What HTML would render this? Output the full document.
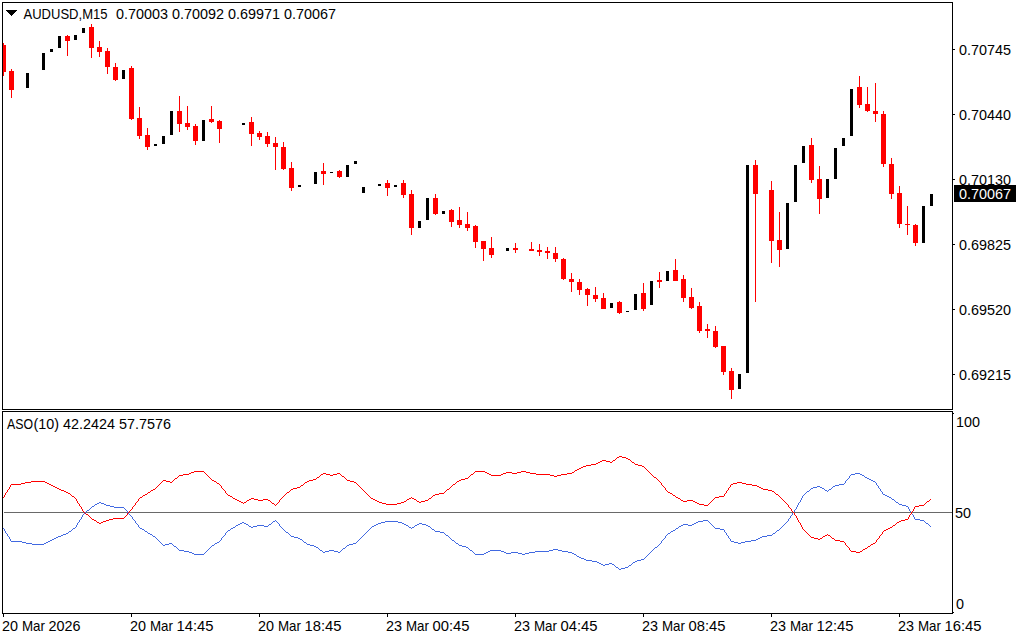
<!DOCTYPE html>
<html><head><meta charset="utf-8"><title>AUDUSD,M15</title>
<style>
html,body{margin:0;padding:0;background:#fff;}
body{width:1024px;height:640px;overflow:hidden;position:relative;font-family:"Liberation Sans",sans-serif;}
svg{position:absolute;left:0;top:0;display:block}
text{font-family:"Liberation Sans",sans-serif;font-size:14.4px;fill:#000}
</style></head><body>
<svg width="1024" height="640" viewBox="0 0 1024 640">
<rect x="0" y="0" width="1024" height="640" fill="#fff"/>
<g shape-rendering="crispEdges">
<g id="candles">
<rect x="3" y="43" width="1" height="33" fill="#f00"/>
<rect x="3" y="45" width="3" height="27" fill="#f00"/>
<rect x="11" y="69" width="1" height="29" fill="#f00"/>
<rect x="9" y="71" width="5" height="19" fill="#f00"/>
<rect x="26" y="73" width="3" height="15" fill="#000"/>
<rect x="42" y="53" width="3" height="17" fill="#000"/>
<rect x="50" y="49" width="3" height="3" fill="#000"/>
<rect x="58" y="36" width="3" height="12" fill="#000"/>
<rect x="67" y="35" width="1" height="21" fill="#f00"/>
<rect x="65" y="36" width="5" height="5" fill="#f00"/>
<rect x="74" y="35" width="3" height="5" fill="#000"/>
<rect x="82" y="28" width="3" height="5" fill="#000"/>
<rect x="91" y="24" width="1" height="34" fill="#f00"/>
<rect x="89" y="27" width="5" height="21" fill="#f00"/>
<rect x="99" y="41" width="1" height="16" fill="#f00"/>
<rect x="97" y="47" width="5" height="5" fill="#f00"/>
<rect x="107" y="48" width="1" height="26" fill="#f00"/>
<rect x="105" y="51" width="5" height="16" fill="#f00"/>
<rect x="115" y="63" width="1" height="18" fill="#f00"/>
<rect x="113" y="67" width="5" height="13" fill="#f00"/>
<rect x="122" y="70" width="3" height="9" fill="#000"/>
<rect x="131" y="66" width="1" height="54" fill="#f00"/>
<rect x="129" y="68" width="5" height="51" fill="#f00"/>
<rect x="139" y="107" width="1" height="32" fill="#f00"/>
<rect x="137" y="118" width="5" height="18" fill="#f00"/>
<rect x="147" y="128" width="1" height="22" fill="#f00"/>
<rect x="145" y="135" width="5" height="12" fill="#f00"/>
<rect x="154" y="144" width="3" height="2" fill="#000"/>
<rect x="162" y="136" width="3" height="8" fill="#000"/>
<rect x="170" y="111" width="3" height="24" fill="#000"/>
<rect x="179" y="96" width="1" height="36" fill="#f00"/>
<rect x="177" y="111" width="5" height="13" fill="#f00"/>
<rect x="187" y="106" width="1" height="24" fill="#f00"/>
<rect x="185" y="123" width="5" height="4" fill="#f00"/>
<rect x="195" y="124" width="1" height="21" fill="#f00"/>
<rect x="193" y="126" width="5" height="15" fill="#f00"/>
<rect x="202" y="120" width="3" height="21" fill="#000"/>
<rect x="211" y="106" width="1" height="17" fill="#f00"/>
<rect x="209" y="119" width="5" height="3" fill="#f00"/>
<rect x="219" y="120" width="1" height="23" fill="#f00"/>
<rect x="217" y="121" width="5" height="8" fill="#f00"/>
<rect x="242" y="123" width="3" height="2" fill="#000"/>
<rect x="251" y="117" width="1" height="29" fill="#f00"/>
<rect x="249" y="122" width="5" height="12" fill="#f00"/>
<rect x="259" y="131" width="1" height="9" fill="#f00"/>
<rect x="257" y="133" width="5" height="4" fill="#f00"/>
<rect x="267" y="132" width="1" height="15" fill="#f00"/>
<rect x="265" y="136" width="5" height="8" fill="#f00"/>
<rect x="275" y="137" width="1" height="33" fill="#f00"/>
<rect x="273" y="143" width="5" height="4" fill="#f00"/>
<rect x="283" y="142" width="1" height="28" fill="#f00"/>
<rect x="281" y="147" width="5" height="22" fill="#f00"/>
<rect x="291" y="162" width="1" height="29" fill="#f00"/>
<rect x="289" y="168" width="5" height="20" fill="#f00"/>
<rect x="298" y="185" width="3" height="2" fill="#000"/>
<rect x="314" y="172" width="3" height="12" fill="#000"/>
<rect x="323" y="163" width="1" height="22" fill="#f00"/>
<rect x="321" y="171" width="5" height="3" fill="#f00"/>
<rect x="330" y="172" width="3" height="1" fill="#000"/>
<rect x="339" y="170" width="1" height="8" fill="#f00"/>
<rect x="337" y="171" width="5" height="6" fill="#f00"/>
<rect x="346" y="165" width="3" height="12" fill="#000"/>
<rect x="354" y="161" width="3" height="3" fill="#000"/>
<rect x="362" y="187" width="3" height="6" fill="#000"/>
<rect x="378" y="184" width="3" height="2" fill="#000"/>
<rect x="387" y="180" width="1" height="16" fill="#f00"/>
<rect x="385" y="183" width="5" height="5" fill="#f00"/>
<rect x="394" y="185" width="3" height="2" fill="#000"/>
<rect x="403" y="180" width="1" height="18" fill="#f00"/>
<rect x="401" y="183" width="5" height="12" fill="#f00"/>
<rect x="411" y="190" width="1" height="45" fill="#f00"/>
<rect x="409" y="194" width="5" height="34" fill="#f00"/>
<rect x="418" y="221" width="3" height="7" fill="#000"/>
<rect x="426" y="198" width="3" height="22" fill="#000"/>
<rect x="435" y="194" width="1" height="21" fill="#f00"/>
<rect x="433" y="198" width="5" height="16" fill="#f00"/>
<rect x="442" y="211" width="3" height="3" fill="#000"/>
<rect x="451" y="209" width="1" height="18" fill="#f00"/>
<rect x="449" y="210" width="5" height="12" fill="#f00"/>
<rect x="459" y="207" width="1" height="21" fill="#f00"/>
<rect x="457" y="220" width="5" height="5" fill="#f00"/>
<rect x="467" y="212" width="1" height="19" fill="#f00"/>
<rect x="465" y="224" width="5" height="4" fill="#f00"/>
<rect x="475" y="225" width="1" height="23" fill="#f00"/>
<rect x="473" y="226" width="5" height="16" fill="#f00"/>
<rect x="483" y="241" width="1" height="20" fill="#f00"/>
<rect x="481" y="241" width="5" height="8" fill="#f00"/>
<rect x="491" y="237" width="1" height="21" fill="#f00"/>
<rect x="489" y="248" width="5" height="7" fill="#f00"/>
<rect x="506" y="248" width="3" height="3" fill="#000"/>
<rect x="515" y="243" width="1" height="10" fill="#f00"/>
<rect x="513" y="248" width="5" height="2" fill="#f00"/>
<rect x="531" y="242" width="1" height="9" fill="#f00"/>
<rect x="529" y="249" width="5" height="2" fill="#f00"/>
<rect x="539" y="244" width="1" height="12" fill="#f00"/>
<rect x="537" y="250" width="5" height="2" fill="#f00"/>
<rect x="547" y="247" width="1" height="12" fill="#f00"/>
<rect x="545" y="251" width="5" height="2" fill="#f00"/>
<rect x="555" y="247" width="1" height="15" fill="#f00"/>
<rect x="553" y="253" width="5" height="6" fill="#f00"/>
<rect x="563" y="258" width="1" height="22" fill="#f00"/>
<rect x="561" y="259" width="5" height="20" fill="#f00"/>
<rect x="571" y="273" width="1" height="19" fill="#f00"/>
<rect x="569" y="279" width="5" height="3" fill="#f00"/>
<rect x="579" y="279" width="1" height="16" fill="#f00"/>
<rect x="577" y="282" width="5" height="8" fill="#f00"/>
<rect x="587" y="288" width="1" height="18" fill="#f00"/>
<rect x="585" y="289" width="5" height="6" fill="#f00"/>
<rect x="595" y="287" width="1" height="15" fill="#f00"/>
<rect x="593" y="295" width="5" height="4" fill="#f00"/>
<rect x="603" y="293" width="1" height="16" fill="#f00"/>
<rect x="601" y="298" width="5" height="11" fill="#f00"/>
<rect x="610" y="303" width="3" height="5" fill="#000"/>
<rect x="619" y="301" width="1" height="13" fill="#f00"/>
<rect x="617" y="302" width="5" height="11" fill="#f00"/>
<rect x="626" y="311" width="3" height="1" fill="#000"/>
<rect x="634" y="294" width="3" height="16" fill="#000"/>
<rect x="643" y="283" width="1" height="28" fill="#f00"/>
<rect x="641" y="293" width="5" height="16" fill="#f00"/>
<rect x="650" y="281" width="3" height="24" fill="#000"/>
<rect x="659" y="272" width="1" height="16" fill="#f00"/>
<rect x="657" y="280" width="5" height="2" fill="#f00"/>
<rect x="666" y="271" width="3" height="10" fill="#000"/>
<rect x="675" y="259" width="1" height="22" fill="#f00"/>
<rect x="673" y="270" width="5" height="11" fill="#f00"/>
<rect x="683" y="275" width="1" height="27" fill="#f00"/>
<rect x="681" y="279" width="5" height="19" fill="#f00"/>
<rect x="691" y="288" width="1" height="21" fill="#f00"/>
<rect x="689" y="297" width="5" height="11" fill="#f00"/>
<rect x="699" y="302" width="1" height="31" fill="#f00"/>
<rect x="697" y="306" width="5" height="25" fill="#f00"/>
<rect x="707" y="324" width="1" height="14" fill="#f00"/>
<rect x="705" y="329" width="5" height="2" fill="#f00"/>
<rect x="715" y="326" width="1" height="22" fill="#f00"/>
<rect x="713" y="331" width="5" height="16" fill="#f00"/>
<rect x="723" y="346" width="1" height="29" fill="#f00"/>
<rect x="721" y="346" width="5" height="26" fill="#f00"/>
<rect x="731" y="368" width="1" height="31" fill="#f00"/>
<rect x="729" y="371" width="5" height="19" fill="#f00"/>
<rect x="738" y="374" width="3" height="15" fill="#000"/>
<rect x="746" y="165" width="3" height="208" fill="#000"/>
<rect x="755" y="160" width="1" height="142" fill="#f00"/>
<rect x="753" y="165" width="5" height="29" fill="#f00"/>
<rect x="771" y="181" width="1" height="82" fill="#f00"/>
<rect x="769" y="190" width="5" height="51" fill="#f00"/>
<rect x="779" y="212" width="1" height="55" fill="#f00"/>
<rect x="777" y="240" width="5" height="10" fill="#f00"/>
<rect x="786" y="203" width="3" height="46" fill="#000"/>
<rect x="794" y="165" width="3" height="37" fill="#000"/>
<rect x="802" y="146" width="3" height="17" fill="#000"/>
<rect x="811" y="138" width="1" height="45" fill="#f00"/>
<rect x="809" y="145" width="5" height="35" fill="#f00"/>
<rect x="819" y="166" width="1" height="48" fill="#f00"/>
<rect x="817" y="179" width="5" height="20" fill="#f00"/>
<rect x="826" y="179" width="3" height="19" fill="#000"/>
<rect x="834" y="148" width="3" height="31" fill="#000"/>
<rect x="842" y="138" width="3" height="8" fill="#000"/>
<rect x="850" y="89" width="3" height="47" fill="#000"/>
<rect x="859" y="76" width="1" height="32" fill="#f00"/>
<rect x="857" y="87" width="5" height="18" fill="#f00"/>
<rect x="867" y="87" width="1" height="25" fill="#f00"/>
<rect x="865" y="104" width="5" height="7" fill="#f00"/>
<rect x="875" y="83" width="1" height="39" fill="#f00"/>
<rect x="873" y="111" width="5" height="3" fill="#f00"/>
<rect x="883" y="111" width="1" height="56" fill="#f00"/>
<rect x="881" y="114" width="5" height="50" fill="#f00"/>
<rect x="891" y="158" width="1" height="41" fill="#f00"/>
<rect x="889" y="164" width="5" height="30" fill="#f00"/>
<rect x="899" y="186" width="1" height="42" fill="#f00"/>
<rect x="897" y="193" width="5" height="31" fill="#f00"/>
<rect x="907" y="206" width="1" height="29" fill="#f00"/>
<rect x="905" y="224" width="5" height="1" fill="#f00"/>
<rect x="915" y="224" width="1" height="22" fill="#f00"/>
<rect x="913" y="225" width="5" height="18" fill="#f00"/>
<rect x="922" y="206" width="3" height="37" fill="#000"/>
<rect x="930" y="194" width="3" height="12" fill="#000"/>
</g>
<rect x="4" y="512" width="948" height="1" fill="#696969"/>
<rect x="855" y="473" width="5" height="1" fill="#4169e1"/>
<rect x="851" y="474" width="4" height="1" fill="#4169e1"/>
<rect x="860" y="474" width="2" height="1" fill="#4169e1"/>
<rect x="850" y="475" width="1" height="1" fill="#4169e1"/>
<rect x="862" y="475" width="2" height="1" fill="#4169e1"/>
<rect x="849" y="476" width="1" height="1" fill="#4169e1"/>
<rect x="864" y="476" width="1" height="1" fill="#4169e1"/>
<rect x="849" y="477" width="1" height="1" fill="#4169e1"/>
<rect x="865" y="477" width="2" height="1" fill="#4169e1"/>
<rect x="848" y="478" width="1" height="1" fill="#4169e1"/>
<rect x="867" y="478" width="2" height="1" fill="#4169e1"/>
<rect x="847" y="479" width="1" height="1" fill="#4169e1"/>
<rect x="869" y="479" width="2" height="1" fill="#4169e1"/>
<rect x="846" y="480" width="1" height="1" fill="#4169e1"/>
<rect x="871" y="480" width="2" height="1" fill="#4169e1"/>
<rect x="845" y="481" width="1" height="1" fill="#4169e1"/>
<rect x="873" y="481" width="2" height="1" fill="#4169e1"/>
<rect x="845" y="482" width="1" height="1" fill="#4169e1"/>
<rect x="875" y="482" width="1" height="1" fill="#4169e1"/>
<rect x="844" y="483" width="1" height="1" fill="#4169e1"/>
<rect x="876" y="483" width="1" height="1" fill="#4169e1"/>
<rect x="839" y="484" width="5" height="1" fill="#4169e1"/>
<rect x="876" y="484" width="1" height="1" fill="#4169e1"/>
<rect x="835" y="485" width="4" height="1" fill="#4169e1"/>
<rect x="877" y="485" width="1" height="1" fill="#4169e1"/>
<rect x="817" y="486" width="3" height="1" fill="#4169e1"/>
<rect x="833" y="486" width="2" height="1" fill="#4169e1"/>
<rect x="878" y="486" width="1" height="1" fill="#4169e1"/>
<rect x="813" y="487" width="4" height="1" fill="#4169e1"/>
<rect x="820" y="487" width="2" height="1" fill="#4169e1"/>
<rect x="832" y="487" width="1" height="1" fill="#4169e1"/>
<rect x="878" y="487" width="1" height="1" fill="#4169e1"/>
<rect x="811" y="488" width="2" height="1" fill="#4169e1"/>
<rect x="822" y="488" width="2" height="1" fill="#4169e1"/>
<rect x="831" y="488" width="1" height="1" fill="#4169e1"/>
<rect x="879" y="488" width="1" height="1" fill="#4169e1"/>
<rect x="810" y="489" width="1" height="1" fill="#4169e1"/>
<rect x="824" y="489" width="1" height="1" fill="#4169e1"/>
<rect x="829" y="489" width="2" height="1" fill="#4169e1"/>
<rect x="880" y="489" width="1" height="1" fill="#4169e1"/>
<rect x="809" y="490" width="1" height="1" fill="#4169e1"/>
<rect x="825" y="490" width="2" height="1" fill="#4169e1"/>
<rect x="828" y="490" width="1" height="1" fill="#4169e1"/>
<rect x="880" y="490" width="1" height="1" fill="#4169e1"/>
<rect x="807" y="491" width="2" height="1" fill="#4169e1"/>
<rect x="827" y="491" width="1" height="1" fill="#4169e1"/>
<rect x="881" y="491" width="1" height="1" fill="#4169e1"/>
<rect x="806" y="492" width="1" height="1" fill="#4169e1"/>
<rect x="882" y="492" width="1" height="1" fill="#4169e1"/>
<rect x="805" y="493" width="1" height="1" fill="#4169e1"/>
<rect x="882" y="493" width="1" height="1" fill="#4169e1"/>
<rect x="804" y="494" width="1" height="1" fill="#4169e1"/>
<rect x="883" y="494" width="2" height="1" fill="#4169e1"/>
<rect x="803" y="495" width="1" height="1" fill="#4169e1"/>
<rect x="885" y="495" width="2" height="1" fill="#4169e1"/>
<rect x="802" y="496" width="1" height="1" fill="#4169e1"/>
<rect x="887" y="496" width="2" height="1" fill="#4169e1"/>
<rect x="802" y="497" width="1" height="1" fill="#4169e1"/>
<rect x="889" y="497" width="2" height="1" fill="#4169e1"/>
<rect x="801" y="498" width="1" height="1" fill="#4169e1"/>
<rect x="891" y="498" width="1" height="1" fill="#4169e1"/>
<rect x="801" y="499" width="1" height="1" fill="#4169e1"/>
<rect x="892" y="499" width="2" height="1" fill="#4169e1"/>
<rect x="800" y="500" width="1" height="1" fill="#4169e1"/>
<rect x="894" y="500" width="1" height="1" fill="#4169e1"/>
<rect x="800" y="501" width="1" height="1" fill="#4169e1"/>
<rect x="895" y="501" width="1" height="1" fill="#4169e1"/>
<rect x="99" y="502" width="2" height="1" fill="#4169e1"/>
<rect x="799" y="502" width="1" height="1" fill="#4169e1"/>
<rect x="896" y="502" width="2" height="1" fill="#4169e1"/>
<rect x="97" y="503" width="2" height="1" fill="#4169e1"/>
<rect x="101" y="503" width="3" height="1" fill="#4169e1"/>
<rect x="798" y="503" width="1" height="1" fill="#4169e1"/>
<rect x="898" y="503" width="1" height="1" fill="#4169e1"/>
<rect x="95" y="504" width="2" height="1" fill="#4169e1"/>
<rect x="104" y="504" width="2" height="1" fill="#4169e1"/>
<rect x="798" y="504" width="1" height="1" fill="#4169e1"/>
<rect x="899" y="504" width="3" height="1" fill="#4169e1"/>
<rect x="94" y="505" width="1" height="1" fill="#4169e1"/>
<rect x="106" y="505" width="4" height="1" fill="#4169e1"/>
<rect x="797" y="505" width="1" height="1" fill="#4169e1"/>
<rect x="902" y="505" width="4" height="1" fill="#4169e1"/>
<rect x="92" y="506" width="2" height="1" fill="#4169e1"/>
<rect x="110" y="506" width="4" height="1" fill="#4169e1"/>
<rect x="797" y="506" width="1" height="1" fill="#4169e1"/>
<rect x="906" y="506" width="2" height="1" fill="#4169e1"/>
<rect x="91" y="507" width="1" height="1" fill="#4169e1"/>
<rect x="114" y="507" width="10" height="1" fill="#4169e1"/>
<rect x="796" y="507" width="1" height="1" fill="#4169e1"/>
<rect x="908" y="507" width="1" height="1" fill="#4169e1"/>
<rect x="90" y="508" width="1" height="1" fill="#4169e1"/>
<rect x="124" y="508" width="1" height="1" fill="#4169e1"/>
<rect x="796" y="508" width="1" height="1" fill="#4169e1"/>
<rect x="908" y="508" width="1" height="1" fill="#4169e1"/>
<rect x="89" y="509" width="1" height="1" fill="#4169e1"/>
<rect x="125" y="509" width="1" height="1" fill="#4169e1"/>
<rect x="795" y="509" width="1" height="1" fill="#4169e1"/>
<rect x="909" y="509" width="1" height="1" fill="#4169e1"/>
<rect x="87" y="510" width="2" height="1" fill="#4169e1"/>
<rect x="126" y="510" width="1" height="1" fill="#4169e1"/>
<rect x="794" y="510" width="1" height="1" fill="#4169e1"/>
<rect x="909" y="510" width="1" height="1" fill="#4169e1"/>
<rect x="86" y="511" width="1" height="1" fill="#4169e1"/>
<rect x="127" y="511" width="1" height="1" fill="#4169e1"/>
<rect x="794" y="511" width="1" height="1" fill="#4169e1"/>
<rect x="910" y="511" width="1" height="1" fill="#4169e1"/>
<rect x="85" y="512" width="1" height="1" fill="#4169e1"/>
<rect x="127" y="512" width="1" height="1" fill="#4169e1"/>
<rect x="793" y="512" width="1" height="1" fill="#4169e1"/>
<rect x="911" y="512" width="1" height="1" fill="#4169e1"/>
<rect x="84" y="513" width="1" height="1" fill="#4169e1"/>
<rect x="128" y="513" width="1" height="1" fill="#4169e1"/>
<rect x="792" y="513" width="1" height="1" fill="#4169e1"/>
<rect x="911" y="513" width="1" height="1" fill="#4169e1"/>
<rect x="83" y="514" width="1" height="1" fill="#4169e1"/>
<rect x="129" y="514" width="1" height="1" fill="#4169e1"/>
<rect x="792" y="514" width="1" height="1" fill="#4169e1"/>
<rect x="912" y="514" width="1" height="1" fill="#4169e1"/>
<rect x="82" y="515" width="1" height="1" fill="#4169e1"/>
<rect x="130" y="515" width="1" height="1" fill="#4169e1"/>
<rect x="791" y="515" width="1" height="1" fill="#4169e1"/>
<rect x="913" y="515" width="1" height="1" fill="#4169e1"/>
<rect x="82" y="516" width="1" height="1" fill="#4169e1"/>
<rect x="131" y="516" width="1" height="1" fill="#4169e1"/>
<rect x="790" y="516" width="1" height="1" fill="#4169e1"/>
<rect x="913" y="516" width="1" height="1" fill="#4169e1"/>
<rect x="81" y="517" width="1" height="1" fill="#4169e1"/>
<rect x="132" y="517" width="1" height="1" fill="#4169e1"/>
<rect x="790" y="517" width="1" height="1" fill="#4169e1"/>
<rect x="914" y="517" width="1" height="1" fill="#4169e1"/>
<rect x="81" y="518" width="1" height="1" fill="#4169e1"/>
<rect x="132" y="518" width="1" height="1" fill="#4169e1"/>
<rect x="789" y="518" width="1" height="1" fill="#4169e1"/>
<rect x="914" y="518" width="1" height="1" fill="#4169e1"/>
<rect x="80" y="519" width="1" height="1" fill="#4169e1"/>
<rect x="133" y="519" width="1" height="1" fill="#4169e1"/>
<rect x="788" y="519" width="1" height="1" fill="#4169e1"/>
<rect x="915" y="519" width="5" height="1" fill="#4169e1"/>
<rect x="79" y="520" width="1" height="1" fill="#4169e1"/>
<rect x="134" y="520" width="1" height="1" fill="#4169e1"/>
<rect x="275" y="520" width="1" height="1" fill="#4169e1"/>
<rect x="703" y="520" width="5" height="1" fill="#4169e1"/>
<rect x="788" y="520" width="1" height="1" fill="#4169e1"/>
<rect x="920" y="520" width="4" height="1" fill="#4169e1"/>
<rect x="79" y="521" width="1" height="1" fill="#4169e1"/>
<rect x="135" y="521" width="1" height="1" fill="#4169e1"/>
<rect x="273" y="521" width="2" height="1" fill="#4169e1"/>
<rect x="276" y="521" width="1" height="1" fill="#4169e1"/>
<rect x="385" y="521" width="13" height="1" fill="#4169e1"/>
<rect x="698" y="521" width="5" height="1" fill="#4169e1"/>
<rect x="708" y="521" width="1" height="1" fill="#4169e1"/>
<rect x="787" y="521" width="1" height="1" fill="#4169e1"/>
<rect x="924" y="521" width="1" height="1" fill="#4169e1"/>
<rect x="78" y="522" width="1" height="1" fill="#4169e1"/>
<rect x="135" y="522" width="1" height="1" fill="#4169e1"/>
<rect x="242" y="522" width="2" height="1" fill="#4169e1"/>
<rect x="272" y="522" width="1" height="1" fill="#4169e1"/>
<rect x="277" y="522" width="1" height="1" fill="#4169e1"/>
<rect x="381" y="522" width="4" height="1" fill="#4169e1"/>
<rect x="398" y="522" width="4" height="1" fill="#4169e1"/>
<rect x="696" y="522" width="2" height="1" fill="#4169e1"/>
<rect x="709" y="522" width="1" height="1" fill="#4169e1"/>
<rect x="786" y="522" width="1" height="1" fill="#4169e1"/>
<rect x="925" y="522" width="1" height="1" fill="#4169e1"/>
<rect x="77" y="523" width="1" height="1" fill="#4169e1"/>
<rect x="136" y="523" width="1" height="1" fill="#4169e1"/>
<rect x="240" y="523" width="2" height="1" fill="#4169e1"/>
<rect x="244" y="523" width="2" height="1" fill="#4169e1"/>
<rect x="271" y="523" width="1" height="1" fill="#4169e1"/>
<rect x="278" y="523" width="1" height="1" fill="#4169e1"/>
<rect x="378" y="523" width="3" height="1" fill="#4169e1"/>
<rect x="402" y="523" width="2" height="1" fill="#4169e1"/>
<rect x="419" y="523" width="3" height="1" fill="#4169e1"/>
<rect x="694" y="523" width="2" height="1" fill="#4169e1"/>
<rect x="710" y="523" width="1" height="1" fill="#4169e1"/>
<rect x="785" y="523" width="1" height="1" fill="#4169e1"/>
<rect x="926" y="523" width="2" height="1" fill="#4169e1"/>
<rect x="77" y="524" width="1" height="1" fill="#4169e1"/>
<rect x="137" y="524" width="1" height="1" fill="#4169e1"/>
<rect x="238" y="524" width="2" height="1" fill="#4169e1"/>
<rect x="246" y="524" width="2" height="1" fill="#4169e1"/>
<rect x="269" y="524" width="2" height="1" fill="#4169e1"/>
<rect x="279" y="524" width="1" height="1" fill="#4169e1"/>
<rect x="376" y="524" width="2" height="1" fill="#4169e1"/>
<rect x="404" y="524" width="2" height="1" fill="#4169e1"/>
<rect x="417" y="524" width="2" height="1" fill="#4169e1"/>
<rect x="422" y="524" width="4" height="1" fill="#4169e1"/>
<rect x="683" y="524" width="5" height="1" fill="#4169e1"/>
<rect x="692" y="524" width="2" height="1" fill="#4169e1"/>
<rect x="711" y="524" width="1" height="1" fill="#4169e1"/>
<rect x="784" y="524" width="1" height="1" fill="#4169e1"/>
<rect x="928" y="524" width="1" height="1" fill="#4169e1"/>
<rect x="76" y="525" width="1" height="1" fill="#4169e1"/>
<rect x="138" y="525" width="1" height="1" fill="#4169e1"/>
<rect x="236" y="525" width="2" height="1" fill="#4169e1"/>
<rect x="248" y="525" width="1" height="1" fill="#4169e1"/>
<rect x="257" y="525" width="7" height="1" fill="#4169e1"/>
<rect x="268" y="525" width="1" height="1" fill="#4169e1"/>
<rect x="279" y="525" width="1" height="1" fill="#4169e1"/>
<rect x="374" y="525" width="2" height="1" fill="#4169e1"/>
<rect x="406" y="525" width="2" height="1" fill="#4169e1"/>
<rect x="415" y="525" width="2" height="1" fill="#4169e1"/>
<rect x="426" y="525" width="2" height="1" fill="#4169e1"/>
<rect x="681" y="525" width="2" height="1" fill="#4169e1"/>
<rect x="688" y="525" width="4" height="1" fill="#4169e1"/>
<rect x="712" y="525" width="1" height="1" fill="#4169e1"/>
<rect x="783" y="525" width="1" height="1" fill="#4169e1"/>
<rect x="929" y="525" width="1" height="1" fill="#4169e1"/>
<rect x="76" y="526" width="1" height="1" fill="#4169e1"/>
<rect x="138" y="526" width="1" height="1" fill="#4169e1"/>
<rect x="235" y="526" width="1" height="1" fill="#4169e1"/>
<rect x="249" y="526" width="2" height="1" fill="#4169e1"/>
<rect x="253" y="526" width="4" height="1" fill="#4169e1"/>
<rect x="264" y="526" width="4" height="1" fill="#4169e1"/>
<rect x="280" y="526" width="1" height="1" fill="#4169e1"/>
<rect x="372" y="526" width="2" height="1" fill="#4169e1"/>
<rect x="408" y="526" width="1" height="1" fill="#4169e1"/>
<rect x="414" y="526" width="1" height="1" fill="#4169e1"/>
<rect x="428" y="526" width="2" height="1" fill="#4169e1"/>
<rect x="679" y="526" width="2" height="1" fill="#4169e1"/>
<rect x="713" y="526" width="1" height="1" fill="#4169e1"/>
<rect x="782" y="526" width="1" height="1" fill="#4169e1"/>
<rect x="930" y="526" width="1" height="1" fill="#4169e1"/>
<rect x="75" y="527" width="1" height="1" fill="#4169e1"/>
<rect x="139" y="527" width="1" height="1" fill="#4169e1"/>
<rect x="233" y="527" width="2" height="1" fill="#4169e1"/>
<rect x="251" y="527" width="2" height="1" fill="#4169e1"/>
<rect x="281" y="527" width="1" height="1" fill="#4169e1"/>
<rect x="371" y="527" width="1" height="1" fill="#4169e1"/>
<rect x="409" y="527" width="2" height="1" fill="#4169e1"/>
<rect x="412" y="527" width="2" height="1" fill="#4169e1"/>
<rect x="430" y="527" width="1" height="1" fill="#4169e1"/>
<rect x="678" y="527" width="1" height="1" fill="#4169e1"/>
<rect x="714" y="527" width="1" height="1" fill="#4169e1"/>
<rect x="781" y="527" width="1" height="1" fill="#4169e1"/>
<rect x="3" y="528" width="1" height="1" fill="#4169e1"/>
<rect x="73" y="528" width="2" height="1" fill="#4169e1"/>
<rect x="140" y="528" width="2" height="1" fill="#4169e1"/>
<rect x="231" y="528" width="2" height="1" fill="#4169e1"/>
<rect x="282" y="528" width="1" height="1" fill="#4169e1"/>
<rect x="370" y="528" width="1" height="1" fill="#4169e1"/>
<rect x="411" y="528" width="1" height="1" fill="#4169e1"/>
<rect x="431" y="528" width="1" height="1" fill="#4169e1"/>
<rect x="676" y="528" width="2" height="1" fill="#4169e1"/>
<rect x="715" y="528" width="5" height="1" fill="#4169e1"/>
<rect x="780" y="528" width="1" height="1" fill="#4169e1"/>
<rect x="4" y="529" width="1" height="1" fill="#4169e1"/>
<rect x="72" y="529" width="1" height="1" fill="#4169e1"/>
<rect x="142" y="529" width="2" height="1" fill="#4169e1"/>
<rect x="230" y="529" width="1" height="1" fill="#4169e1"/>
<rect x="283" y="529" width="1" height="1" fill="#4169e1"/>
<rect x="369" y="529" width="1" height="1" fill="#4169e1"/>
<rect x="432" y="529" width="2" height="1" fill="#4169e1"/>
<rect x="675" y="529" width="1" height="1" fill="#4169e1"/>
<rect x="720" y="529" width="4" height="1" fill="#4169e1"/>
<rect x="779" y="529" width="1" height="1" fill="#4169e1"/>
<rect x="4" y="530" width="1" height="1" fill="#4169e1"/>
<rect x="71" y="530" width="1" height="1" fill="#4169e1"/>
<rect x="144" y="530" width="1" height="1" fill="#4169e1"/>
<rect x="228" y="530" width="2" height="1" fill="#4169e1"/>
<rect x="284" y="530" width="1" height="1" fill="#4169e1"/>
<rect x="368" y="530" width="1" height="1" fill="#4169e1"/>
<rect x="434" y="530" width="1" height="1" fill="#4169e1"/>
<rect x="673" y="530" width="2" height="1" fill="#4169e1"/>
<rect x="724" y="530" width="1" height="1" fill="#4169e1"/>
<rect x="777" y="530" width="2" height="1" fill="#4169e1"/>
<rect x="5" y="531" width="1" height="1" fill="#4169e1"/>
<rect x="69" y="531" width="2" height="1" fill="#4169e1"/>
<rect x="145" y="531" width="2" height="1" fill="#4169e1"/>
<rect x="227" y="531" width="1" height="1" fill="#4169e1"/>
<rect x="285" y="531" width="1" height="1" fill="#4169e1"/>
<rect x="367" y="531" width="1" height="1" fill="#4169e1"/>
<rect x="435" y="531" width="5" height="1" fill="#4169e1"/>
<rect x="671" y="531" width="2" height="1" fill="#4169e1"/>
<rect x="724" y="531" width="1" height="1" fill="#4169e1"/>
<rect x="776" y="531" width="1" height="1" fill="#4169e1"/>
<rect x="5" y="532" width="1" height="1" fill="#4169e1"/>
<rect x="68" y="532" width="1" height="1" fill="#4169e1"/>
<rect x="147" y="532" width="1" height="1" fill="#4169e1"/>
<rect x="226" y="532" width="1" height="1" fill="#4169e1"/>
<rect x="286" y="532" width="2" height="1" fill="#4169e1"/>
<rect x="366" y="532" width="1" height="1" fill="#4169e1"/>
<rect x="440" y="532" width="4" height="1" fill="#4169e1"/>
<rect x="670" y="532" width="1" height="1" fill="#4169e1"/>
<rect x="725" y="532" width="1" height="1" fill="#4169e1"/>
<rect x="775" y="532" width="1" height="1" fill="#4169e1"/>
<rect x="6" y="533" width="1" height="1" fill="#4169e1"/>
<rect x="66" y="533" width="2" height="1" fill="#4169e1"/>
<rect x="148" y="533" width="2" height="1" fill="#4169e1"/>
<rect x="225" y="533" width="1" height="1" fill="#4169e1"/>
<rect x="288" y="533" width="1" height="1" fill="#4169e1"/>
<rect x="365" y="533" width="1" height="1" fill="#4169e1"/>
<rect x="444" y="533" width="1" height="1" fill="#4169e1"/>
<rect x="668" y="533" width="2" height="1" fill="#4169e1"/>
<rect x="726" y="533" width="1" height="1" fill="#4169e1"/>
<rect x="773" y="533" width="2" height="1" fill="#4169e1"/>
<rect x="7" y="534" width="1" height="1" fill="#4169e1"/>
<rect x="63" y="534" width="3" height="1" fill="#4169e1"/>
<rect x="150" y="534" width="2" height="1" fill="#4169e1"/>
<rect x="225" y="534" width="1" height="1" fill="#4169e1"/>
<rect x="289" y="534" width="1" height="1" fill="#4169e1"/>
<rect x="364" y="534" width="1" height="1" fill="#4169e1"/>
<rect x="445" y="534" width="1" height="1" fill="#4169e1"/>
<rect x="667" y="534" width="1" height="1" fill="#4169e1"/>
<rect x="726" y="534" width="1" height="1" fill="#4169e1"/>
<rect x="772" y="534" width="1" height="1" fill="#4169e1"/>
<rect x="7" y="535" width="1" height="1" fill="#4169e1"/>
<rect x="61" y="535" width="2" height="1" fill="#4169e1"/>
<rect x="152" y="535" width="1" height="1" fill="#4169e1"/>
<rect x="224" y="535" width="1" height="1" fill="#4169e1"/>
<rect x="290" y="535" width="1" height="1" fill="#4169e1"/>
<rect x="363" y="535" width="1" height="1" fill="#4169e1"/>
<rect x="446" y="535" width="2" height="1" fill="#4169e1"/>
<rect x="666" y="535" width="1" height="1" fill="#4169e1"/>
<rect x="727" y="535" width="1" height="1" fill="#4169e1"/>
<rect x="767" y="535" width="5" height="1" fill="#4169e1"/>
<rect x="8" y="536" width="1" height="1" fill="#4169e1"/>
<rect x="58" y="536" width="3" height="1" fill="#4169e1"/>
<rect x="153" y="536" width="2" height="1" fill="#4169e1"/>
<rect x="223" y="536" width="1" height="1" fill="#4169e1"/>
<rect x="291" y="536" width="3" height="1" fill="#4169e1"/>
<rect x="362" y="536" width="1" height="1" fill="#4169e1"/>
<rect x="448" y="536" width="1" height="1" fill="#4169e1"/>
<rect x="665" y="536" width="1" height="1" fill="#4169e1"/>
<rect x="728" y="536" width="1" height="1" fill="#4169e1"/>
<rect x="762" y="536" width="5" height="1" fill="#4169e1"/>
<rect x="9" y="537" width="1" height="1" fill="#4169e1"/>
<rect x="56" y="537" width="2" height="1" fill="#4169e1"/>
<rect x="155" y="537" width="1" height="1" fill="#4169e1"/>
<rect x="222" y="537" width="1" height="1" fill="#4169e1"/>
<rect x="294" y="537" width="4" height="1" fill="#4169e1"/>
<rect x="361" y="537" width="1" height="1" fill="#4169e1"/>
<rect x="449" y="537" width="1" height="1" fill="#4169e1"/>
<rect x="665" y="537" width="1" height="1" fill="#4169e1"/>
<rect x="728" y="537" width="1" height="1" fill="#4169e1"/>
<rect x="760" y="537" width="2" height="1" fill="#4169e1"/>
<rect x="9" y="538" width="1" height="1" fill="#4169e1"/>
<rect x="54" y="538" width="2" height="1" fill="#4169e1"/>
<rect x="156" y="538" width="1" height="1" fill="#4169e1"/>
<rect x="221" y="538" width="1" height="1" fill="#4169e1"/>
<rect x="298" y="538" width="2" height="1" fill="#4169e1"/>
<rect x="360" y="538" width="1" height="1" fill="#4169e1"/>
<rect x="450" y="538" width="1" height="1" fill="#4169e1"/>
<rect x="664" y="538" width="1" height="1" fill="#4169e1"/>
<rect x="729" y="538" width="1" height="1" fill="#4169e1"/>
<rect x="758" y="538" width="2" height="1" fill="#4169e1"/>
<rect x="10" y="539" width="1" height="1" fill="#4169e1"/>
<rect x="52" y="539" width="2" height="1" fill="#4169e1"/>
<rect x="157" y="539" width="1" height="1" fill="#4169e1"/>
<rect x="221" y="539" width="1" height="1" fill="#4169e1"/>
<rect x="300" y="539" width="2" height="1" fill="#4169e1"/>
<rect x="359" y="539" width="1" height="1" fill="#4169e1"/>
<rect x="451" y="539" width="1" height="1" fill="#4169e1"/>
<rect x="663" y="539" width="1" height="1" fill="#4169e1"/>
<rect x="730" y="539" width="1" height="1" fill="#4169e1"/>
<rect x="756" y="539" width="2" height="1" fill="#4169e1"/>
<rect x="10" y="540" width="1" height="1" fill="#4169e1"/>
<rect x="50" y="540" width="2" height="1" fill="#4169e1"/>
<rect x="158" y="540" width="1" height="1" fill="#4169e1"/>
<rect x="220" y="540" width="1" height="1" fill="#4169e1"/>
<rect x="302" y="540" width="1" height="1" fill="#4169e1"/>
<rect x="358" y="540" width="1" height="1" fill="#4169e1"/>
<rect x="452" y="540" width="2" height="1" fill="#4169e1"/>
<rect x="662" y="540" width="1" height="1" fill="#4169e1"/>
<rect x="730" y="540" width="1" height="1" fill="#4169e1"/>
<rect x="751" y="540" width="5" height="1" fill="#4169e1"/>
<rect x="11" y="541" width="11" height="1" fill="#4169e1"/>
<rect x="48" y="541" width="2" height="1" fill="#4169e1"/>
<rect x="159" y="541" width="1" height="1" fill="#4169e1"/>
<rect x="219" y="541" width="1" height="1" fill="#4169e1"/>
<rect x="303" y="541" width="1" height="1" fill="#4169e1"/>
<rect x="357" y="541" width="1" height="1" fill="#4169e1"/>
<rect x="454" y="541" width="1" height="1" fill="#4169e1"/>
<rect x="661" y="541" width="1" height="1" fill="#4169e1"/>
<rect x="731" y="541" width="3" height="1" fill="#4169e1"/>
<rect x="745" y="541" width="6" height="1" fill="#4169e1"/>
<rect x="22" y="542" width="4" height="1" fill="#4169e1"/>
<rect x="46" y="542" width="2" height="1" fill="#4169e1"/>
<rect x="160" y="542" width="1" height="1" fill="#4169e1"/>
<rect x="217" y="542" width="2" height="1" fill="#4169e1"/>
<rect x="304" y="542" width="2" height="1" fill="#4169e1"/>
<rect x="356" y="542" width="1" height="1" fill="#4169e1"/>
<rect x="455" y="542" width="1" height="1" fill="#4169e1"/>
<rect x="661" y="542" width="1" height="1" fill="#4169e1"/>
<rect x="734" y="542" width="4" height="1" fill="#4169e1"/>
<rect x="741" y="542" width="4" height="1" fill="#4169e1"/>
<rect x="26" y="543" width="6" height="1" fill="#4169e1"/>
<rect x="44" y="543" width="2" height="1" fill="#4169e1"/>
<rect x="161" y="543" width="1" height="1" fill="#4169e1"/>
<rect x="169" y="543" width="3" height="1" fill="#4169e1"/>
<rect x="215" y="543" width="2" height="1" fill="#4169e1"/>
<rect x="306" y="543" width="1" height="1" fill="#4169e1"/>
<rect x="353" y="543" width="3" height="1" fill="#4169e1"/>
<rect x="456" y="543" width="2" height="1" fill="#4169e1"/>
<rect x="660" y="543" width="1" height="1" fill="#4169e1"/>
<rect x="738" y="543" width="3" height="1" fill="#4169e1"/>
<rect x="32" y="544" width="12" height="1" fill="#4169e1"/>
<rect x="162" y="544" width="1" height="1" fill="#4169e1"/>
<rect x="165" y="544" width="4" height="1" fill="#4169e1"/>
<rect x="172" y="544" width="1" height="1" fill="#4169e1"/>
<rect x="214" y="544" width="1" height="1" fill="#4169e1"/>
<rect x="307" y="544" width="3" height="1" fill="#4169e1"/>
<rect x="349" y="544" width="4" height="1" fill="#4169e1"/>
<rect x="458" y="544" width="1" height="1" fill="#4169e1"/>
<rect x="659" y="544" width="1" height="1" fill="#4169e1"/>
<rect x="163" y="545" width="2" height="1" fill="#4169e1"/>
<rect x="173" y="545" width="1" height="1" fill="#4169e1"/>
<rect x="212" y="545" width="2" height="1" fill="#4169e1"/>
<rect x="310" y="545" width="4" height="1" fill="#4169e1"/>
<rect x="347" y="545" width="2" height="1" fill="#4169e1"/>
<rect x="459" y="545" width="3" height="1" fill="#4169e1"/>
<rect x="658" y="545" width="1" height="1" fill="#4169e1"/>
<rect x="174" y="546" width="2" height="1" fill="#4169e1"/>
<rect x="211" y="546" width="1" height="1" fill="#4169e1"/>
<rect x="314" y="546" width="2" height="1" fill="#4169e1"/>
<rect x="346" y="546" width="1" height="1" fill="#4169e1"/>
<rect x="462" y="546" width="4" height="1" fill="#4169e1"/>
<rect x="657" y="546" width="1" height="1" fill="#4169e1"/>
<rect x="176" y="547" width="1" height="1" fill="#4169e1"/>
<rect x="210" y="547" width="1" height="1" fill="#4169e1"/>
<rect x="316" y="547" width="2" height="1" fill="#4169e1"/>
<rect x="345" y="547" width="1" height="1" fill="#4169e1"/>
<rect x="466" y="547" width="2" height="1" fill="#4169e1"/>
<rect x="655" y="547" width="2" height="1" fill="#4169e1"/>
<rect x="177" y="548" width="1" height="1" fill="#4169e1"/>
<rect x="209" y="548" width="1" height="1" fill="#4169e1"/>
<rect x="318" y="548" width="1" height="1" fill="#4169e1"/>
<rect x="343" y="548" width="2" height="1" fill="#4169e1"/>
<rect x="468" y="548" width="1" height="1" fill="#4169e1"/>
<rect x="654" y="548" width="1" height="1" fill="#4169e1"/>
<rect x="178" y="549" width="1" height="1" fill="#4169e1"/>
<rect x="208" y="549" width="1" height="1" fill="#4169e1"/>
<rect x="319" y="549" width="1" height="1" fill="#4169e1"/>
<rect x="342" y="549" width="1" height="1" fill="#4169e1"/>
<rect x="469" y="549" width="1" height="1" fill="#4169e1"/>
<rect x="553" y="549" width="5" height="1" fill="#4169e1"/>
<rect x="653" y="549" width="1" height="1" fill="#4169e1"/>
<rect x="179" y="550" width="5" height="1" fill="#4169e1"/>
<rect x="207" y="550" width="1" height="1" fill="#4169e1"/>
<rect x="320" y="550" width="2" height="1" fill="#4169e1"/>
<rect x="329" y="550" width="5" height="1" fill="#4169e1"/>
<rect x="341" y="550" width="1" height="1" fill="#4169e1"/>
<rect x="470" y="550" width="2" height="1" fill="#4169e1"/>
<rect x="490" y="550" width="11" height="1" fill="#4169e1"/>
<rect x="549" y="550" width="4" height="1" fill="#4169e1"/>
<rect x="558" y="550" width="4" height="1" fill="#4169e1"/>
<rect x="652" y="550" width="1" height="1" fill="#4169e1"/>
<rect x="184" y="551" width="5" height="1" fill="#4169e1"/>
<rect x="206" y="551" width="1" height="1" fill="#4169e1"/>
<rect x="322" y="551" width="1" height="1" fill="#4169e1"/>
<rect x="325" y="551" width="4" height="1" fill="#4169e1"/>
<rect x="334" y="551" width="4" height="1" fill="#4169e1"/>
<rect x="340" y="551" width="1" height="1" fill="#4169e1"/>
<rect x="472" y="551" width="1" height="1" fill="#4169e1"/>
<rect x="488" y="551" width="2" height="1" fill="#4169e1"/>
<rect x="501" y="551" width="3" height="1" fill="#4169e1"/>
<rect x="535" y="551" width="14" height="1" fill="#4169e1"/>
<rect x="562" y="551" width="6" height="1" fill="#4169e1"/>
<rect x="651" y="551" width="1" height="1" fill="#4169e1"/>
<rect x="189" y="552" width="3" height="1" fill="#4169e1"/>
<rect x="205" y="552" width="1" height="1" fill="#4169e1"/>
<rect x="323" y="552" width="2" height="1" fill="#4169e1"/>
<rect x="338" y="552" width="2" height="1" fill="#4169e1"/>
<rect x="473" y="552" width="1" height="1" fill="#4169e1"/>
<rect x="486" y="552" width="2" height="1" fill="#4169e1"/>
<rect x="504" y="552" width="2" height="1" fill="#4169e1"/>
<rect x="511" y="552" width="7" height="1" fill="#4169e1"/>
<rect x="529" y="552" width="6" height="1" fill="#4169e1"/>
<rect x="568" y="552" width="4" height="1" fill="#4169e1"/>
<rect x="650" y="552" width="1" height="1" fill="#4169e1"/>
<rect x="192" y="553" width="2" height="1" fill="#4169e1"/>
<rect x="204" y="553" width="1" height="1" fill="#4169e1"/>
<rect x="474" y="553" width="1" height="1" fill="#4169e1"/>
<rect x="484" y="553" width="2" height="1" fill="#4169e1"/>
<rect x="506" y="553" width="5" height="1" fill="#4169e1"/>
<rect x="518" y="553" width="4" height="1" fill="#4169e1"/>
<rect x="525" y="553" width="4" height="1" fill="#4169e1"/>
<rect x="572" y="553" width="2" height="1" fill="#4169e1"/>
<rect x="649" y="553" width="1" height="1" fill="#4169e1"/>
<rect x="194" y="554" width="10" height="1" fill="#4169e1"/>
<rect x="475" y="554" width="9" height="1" fill="#4169e1"/>
<rect x="522" y="554" width="3" height="1" fill="#4169e1"/>
<rect x="574" y="554" width="2" height="1" fill="#4169e1"/>
<rect x="648" y="554" width="1" height="1" fill="#4169e1"/>
<rect x="576" y="555" width="1" height="1" fill="#4169e1"/>
<rect x="647" y="555" width="1" height="1" fill="#4169e1"/>
<rect x="577" y="556" width="2" height="1" fill="#4169e1"/>
<rect x="646" y="556" width="1" height="1" fill="#4169e1"/>
<rect x="579" y="557" width="2" height="1" fill="#4169e1"/>
<rect x="645" y="557" width="1" height="1" fill="#4169e1"/>
<rect x="581" y="558" width="3" height="1" fill="#4169e1"/>
<rect x="644" y="558" width="1" height="1" fill="#4169e1"/>
<rect x="584" y="559" width="2" height="1" fill="#4169e1"/>
<rect x="641" y="559" width="3" height="1" fill="#4169e1"/>
<rect x="586" y="560" width="6" height="1" fill="#4169e1"/>
<rect x="637" y="560" width="4" height="1" fill="#4169e1"/>
<rect x="592" y="561" width="5" height="1" fill="#4169e1"/>
<rect x="635" y="561" width="2" height="1" fill="#4169e1"/>
<rect x="597" y="562" width="2" height="1" fill="#4169e1"/>
<rect x="633" y="562" width="2" height="1" fill="#4169e1"/>
<rect x="599" y="563" width="2" height="1" fill="#4169e1"/>
<rect x="609" y="563" width="3" height="1" fill="#4169e1"/>
<rect x="632" y="563" width="1" height="1" fill="#4169e1"/>
<rect x="601" y="564" width="2" height="1" fill="#4169e1"/>
<rect x="605" y="564" width="4" height="1" fill="#4169e1"/>
<rect x="612" y="564" width="2" height="1" fill="#4169e1"/>
<rect x="631" y="564" width="1" height="1" fill="#4169e1"/>
<rect x="603" y="565" width="2" height="1" fill="#4169e1"/>
<rect x="614" y="565" width="1" height="1" fill="#4169e1"/>
<rect x="629" y="565" width="2" height="1" fill="#4169e1"/>
<rect x="615" y="566" width="1" height="1" fill="#4169e1"/>
<rect x="628" y="566" width="1" height="1" fill="#4169e1"/>
<rect x="616" y="567" width="2" height="1" fill="#4169e1"/>
<rect x="625" y="567" width="3" height="1" fill="#4169e1"/>
<rect x="618" y="568" width="1" height="1" fill="#4169e1"/>
<rect x="621" y="568" width="4" height="1" fill="#4169e1"/>
<rect x="619" y="569" width="2" height="1" fill="#4169e1"/>
<rect x="619" y="456" width="3" height="1" fill="#f00"/>
<rect x="617" y="457" width="2" height="1" fill="#f00"/>
<rect x="622" y="457" width="4" height="1" fill="#f00"/>
<rect x="616" y="458" width="1" height="1" fill="#f00"/>
<rect x="626" y="458" width="2" height="1" fill="#f00"/>
<rect x="615" y="459" width="1" height="1" fill="#f00"/>
<rect x="628" y="459" width="2" height="1" fill="#f00"/>
<rect x="602" y="460" width="4" height="1" fill="#f00"/>
<rect x="613" y="460" width="2" height="1" fill="#f00"/>
<rect x="630" y="460" width="1" height="1" fill="#f00"/>
<rect x="600" y="461" width="2" height="1" fill="#f00"/>
<rect x="606" y="461" width="4" height="1" fill="#f00"/>
<rect x="612" y="461" width="1" height="1" fill="#f00"/>
<rect x="631" y="461" width="1" height="1" fill="#f00"/>
<rect x="598" y="462" width="2" height="1" fill="#f00"/>
<rect x="610" y="462" width="2" height="1" fill="#f00"/>
<rect x="632" y="462" width="2" height="1" fill="#f00"/>
<rect x="596" y="463" width="2" height="1" fill="#f00"/>
<rect x="634" y="463" width="1" height="1" fill="#f00"/>
<rect x="591" y="464" width="5" height="1" fill="#f00"/>
<rect x="635" y="464" width="3" height="1" fill="#f00"/>
<rect x="586" y="465" width="5" height="1" fill="#f00"/>
<rect x="638" y="465" width="4" height="1" fill="#f00"/>
<rect x="583" y="466" width="3" height="1" fill="#f00"/>
<rect x="642" y="466" width="2" height="1" fill="#f00"/>
<rect x="581" y="467" width="2" height="1" fill="#f00"/>
<rect x="644" y="467" width="1" height="1" fill="#f00"/>
<rect x="579" y="468" width="2" height="1" fill="#f00"/>
<rect x="645" y="468" width="1" height="1" fill="#f00"/>
<rect x="577" y="469" width="2" height="1" fill="#f00"/>
<rect x="646" y="469" width="1" height="1" fill="#f00"/>
<rect x="575" y="470" width="2" height="1" fill="#f00"/>
<rect x="647" y="470" width="1" height="1" fill="#f00"/>
<rect x="194" y="471" width="10" height="1" fill="#f00"/>
<rect x="475" y="471" width="10" height="1" fill="#f00"/>
<rect x="521" y="471" width="5" height="1" fill="#f00"/>
<rect x="574" y="471" width="1" height="1" fill="#f00"/>
<rect x="648" y="471" width="1" height="1" fill="#f00"/>
<rect x="191" y="472" width="3" height="1" fill="#f00"/>
<rect x="204" y="472" width="1" height="1" fill="#f00"/>
<rect x="474" y="472" width="1" height="1" fill="#f00"/>
<rect x="485" y="472" width="2" height="1" fill="#f00"/>
<rect x="506" y="472" width="6" height="1" fill="#f00"/>
<rect x="517" y="472" width="4" height="1" fill="#f00"/>
<rect x="526" y="472" width="4" height="1" fill="#f00"/>
<rect x="572" y="472" width="2" height="1" fill="#f00"/>
<rect x="649" y="472" width="1" height="1" fill="#f00"/>
<rect x="189" y="473" width="2" height="1" fill="#f00"/>
<rect x="205" y="473" width="1" height="1" fill="#f00"/>
<rect x="323" y="473" width="3" height="1" fill="#f00"/>
<rect x="337" y="473" width="3" height="1" fill="#f00"/>
<rect x="473" y="473" width="1" height="1" fill="#f00"/>
<rect x="487" y="473" width="2" height="1" fill="#f00"/>
<rect x="503" y="473" width="3" height="1" fill="#f00"/>
<rect x="512" y="473" width="5" height="1" fill="#f00"/>
<rect x="530" y="473" width="6" height="1" fill="#f00"/>
<rect x="567" y="473" width="5" height="1" fill="#f00"/>
<rect x="650" y="473" width="1" height="1" fill="#f00"/>
<rect x="183" y="474" width="6" height="1" fill="#f00"/>
<rect x="206" y="474" width="1" height="1" fill="#f00"/>
<rect x="321" y="474" width="2" height="1" fill="#f00"/>
<rect x="326" y="474" width="4" height="1" fill="#f00"/>
<rect x="333" y="474" width="4" height="1" fill="#f00"/>
<rect x="340" y="474" width="1" height="1" fill="#f00"/>
<rect x="471" y="474" width="2" height="1" fill="#f00"/>
<rect x="489" y="474" width="2" height="1" fill="#f00"/>
<rect x="501" y="474" width="2" height="1" fill="#f00"/>
<rect x="536" y="474" width="14" height="1" fill="#f00"/>
<rect x="561" y="474" width="6" height="1" fill="#f00"/>
<rect x="651" y="474" width="1" height="1" fill="#f00"/>
<rect x="179" y="475" width="4" height="1" fill="#f00"/>
<rect x="207" y="475" width="1" height="1" fill="#f00"/>
<rect x="320" y="475" width="1" height="1" fill="#f00"/>
<rect x="330" y="475" width="3" height="1" fill="#f00"/>
<rect x="341" y="475" width="1" height="1" fill="#f00"/>
<rect x="470" y="475" width="1" height="1" fill="#f00"/>
<rect x="491" y="475" width="10" height="1" fill="#f00"/>
<rect x="550" y="475" width="4" height="1" fill="#f00"/>
<rect x="557" y="475" width="4" height="1" fill="#f00"/>
<rect x="652" y="475" width="1" height="1" fill="#f00"/>
<rect x="178" y="476" width="1" height="1" fill="#f00"/>
<rect x="208" y="476" width="1" height="1" fill="#f00"/>
<rect x="319" y="476" width="1" height="1" fill="#f00"/>
<rect x="342" y="476" width="2" height="1" fill="#f00"/>
<rect x="469" y="476" width="1" height="1" fill="#f00"/>
<rect x="554" y="476" width="3" height="1" fill="#f00"/>
<rect x="653" y="476" width="1" height="1" fill="#f00"/>
<rect x="177" y="477" width="1" height="1" fill="#f00"/>
<rect x="209" y="477" width="1" height="1" fill="#f00"/>
<rect x="317" y="477" width="2" height="1" fill="#f00"/>
<rect x="344" y="477" width="1" height="1" fill="#f00"/>
<rect x="468" y="477" width="1" height="1" fill="#f00"/>
<rect x="654" y="477" width="2" height="1" fill="#f00"/>
<rect x="175" y="478" width="2" height="1" fill="#f00"/>
<rect x="210" y="478" width="1" height="1" fill="#f00"/>
<rect x="316" y="478" width="1" height="1" fill="#f00"/>
<rect x="345" y="478" width="1" height="1" fill="#f00"/>
<rect x="465" y="478" width="3" height="1" fill="#f00"/>
<rect x="656" y="478" width="1" height="1" fill="#f00"/>
<rect x="174" y="479" width="1" height="1" fill="#f00"/>
<rect x="211" y="479" width="1" height="1" fill="#f00"/>
<rect x="313" y="479" width="3" height="1" fill="#f00"/>
<rect x="346" y="479" width="1" height="1" fill="#f00"/>
<rect x="461" y="479" width="4" height="1" fill="#f00"/>
<rect x="657" y="479" width="1" height="1" fill="#f00"/>
<rect x="163" y="480" width="3" height="1" fill="#f00"/>
<rect x="173" y="480" width="1" height="1" fill="#f00"/>
<rect x="212" y="480" width="2" height="1" fill="#f00"/>
<rect x="309" y="480" width="4" height="1" fill="#f00"/>
<rect x="347" y="480" width="3" height="1" fill="#f00"/>
<rect x="459" y="480" width="2" height="1" fill="#f00"/>
<rect x="658" y="480" width="1" height="1" fill="#f00"/>
<rect x="31" y="481" width="14" height="1" fill="#f00"/>
<rect x="162" y="481" width="1" height="1" fill="#f00"/>
<rect x="166" y="481" width="4" height="1" fill="#f00"/>
<rect x="172" y="481" width="1" height="1" fill="#f00"/>
<rect x="214" y="481" width="2" height="1" fill="#f00"/>
<rect x="307" y="481" width="2" height="1" fill="#f00"/>
<rect x="350" y="481" width="4" height="1" fill="#f00"/>
<rect x="457" y="481" width="2" height="1" fill="#f00"/>
<rect x="659" y="481" width="1" height="1" fill="#f00"/>
<rect x="25" y="482" width="6" height="1" fill="#f00"/>
<rect x="45" y="482" width="2" height="1" fill="#f00"/>
<rect x="161" y="482" width="1" height="1" fill="#f00"/>
<rect x="170" y="482" width="2" height="1" fill="#f00"/>
<rect x="216" y="482" width="1" height="1" fill="#f00"/>
<rect x="305" y="482" width="2" height="1" fill="#f00"/>
<rect x="354" y="482" width="2" height="1" fill="#f00"/>
<rect x="456" y="482" width="1" height="1" fill="#f00"/>
<rect x="660" y="482" width="1" height="1" fill="#f00"/>
<rect x="737" y="482" width="5" height="1" fill="#f00"/>
<rect x="21" y="483" width="4" height="1" fill="#f00"/>
<rect x="47" y="483" width="2" height="1" fill="#f00"/>
<rect x="160" y="483" width="1" height="1" fill="#f00"/>
<rect x="217" y="483" width="2" height="1" fill="#f00"/>
<rect x="304" y="483" width="1" height="1" fill="#f00"/>
<rect x="356" y="483" width="1" height="1" fill="#f00"/>
<rect x="455" y="483" width="1" height="1" fill="#f00"/>
<rect x="661" y="483" width="1" height="1" fill="#f00"/>
<rect x="733" y="483" width="4" height="1" fill="#f00"/>
<rect x="742" y="483" width="4" height="1" fill="#f00"/>
<rect x="11" y="484" width="10" height="1" fill="#f00"/>
<rect x="49" y="484" width="2" height="1" fill="#f00"/>
<rect x="159" y="484" width="1" height="1" fill="#f00"/>
<rect x="219" y="484" width="1" height="1" fill="#f00"/>
<rect x="303" y="484" width="1" height="1" fill="#f00"/>
<rect x="357" y="484" width="1" height="1" fill="#f00"/>
<rect x="453" y="484" width="2" height="1" fill="#f00"/>
<rect x="661" y="484" width="1" height="1" fill="#f00"/>
<rect x="731" y="484" width="2" height="1" fill="#f00"/>
<rect x="746" y="484" width="6" height="1" fill="#f00"/>
<rect x="10" y="485" width="1" height="1" fill="#f00"/>
<rect x="51" y="485" width="2" height="1" fill="#f00"/>
<rect x="158" y="485" width="1" height="1" fill="#f00"/>
<rect x="220" y="485" width="1" height="1" fill="#f00"/>
<rect x="301" y="485" width="2" height="1" fill="#f00"/>
<rect x="358" y="485" width="1" height="1" fill="#f00"/>
<rect x="452" y="485" width="1" height="1" fill="#f00"/>
<rect x="662" y="485" width="1" height="1" fill="#f00"/>
<rect x="730" y="485" width="1" height="1" fill="#f00"/>
<rect x="752" y="485" width="5" height="1" fill="#f00"/>
<rect x="10" y="486" width="1" height="1" fill="#f00"/>
<rect x="53" y="486" width="2" height="1" fill="#f00"/>
<rect x="157" y="486" width="1" height="1" fill="#f00"/>
<rect x="221" y="486" width="1" height="1" fill="#f00"/>
<rect x="300" y="486" width="1" height="1" fill="#f00"/>
<rect x="359" y="486" width="1" height="1" fill="#f00"/>
<rect x="451" y="486" width="1" height="1" fill="#f00"/>
<rect x="663" y="486" width="1" height="1" fill="#f00"/>
<rect x="730" y="486" width="1" height="1" fill="#f00"/>
<rect x="757" y="486" width="2" height="1" fill="#f00"/>
<rect x="9" y="487" width="1" height="1" fill="#f00"/>
<rect x="55" y="487" width="2" height="1" fill="#f00"/>
<rect x="156" y="487" width="1" height="1" fill="#f00"/>
<rect x="221" y="487" width="1" height="1" fill="#f00"/>
<rect x="297" y="487" width="3" height="1" fill="#f00"/>
<rect x="360" y="487" width="1" height="1" fill="#f00"/>
<rect x="450" y="487" width="1" height="1" fill="#f00"/>
<rect x="664" y="487" width="1" height="1" fill="#f00"/>
<rect x="729" y="487" width="1" height="1" fill="#f00"/>
<rect x="759" y="487" width="2" height="1" fill="#f00"/>
<rect x="9" y="488" width="1" height="1" fill="#f00"/>
<rect x="57" y="488" width="2" height="1" fill="#f00"/>
<rect x="155" y="488" width="1" height="1" fill="#f00"/>
<rect x="222" y="488" width="1" height="1" fill="#f00"/>
<rect x="293" y="488" width="4" height="1" fill="#f00"/>
<rect x="361" y="488" width="1" height="1" fill="#f00"/>
<rect x="449" y="488" width="1" height="1" fill="#f00"/>
<rect x="665" y="488" width="1" height="1" fill="#f00"/>
<rect x="728" y="488" width="1" height="1" fill="#f00"/>
<rect x="761" y="488" width="2" height="1" fill="#f00"/>
<rect x="8" y="489" width="1" height="1" fill="#f00"/>
<rect x="59" y="489" width="2" height="1" fill="#f00"/>
<rect x="153" y="489" width="2" height="1" fill="#f00"/>
<rect x="223" y="489" width="1" height="1" fill="#f00"/>
<rect x="291" y="489" width="2" height="1" fill="#f00"/>
<rect x="362" y="489" width="1" height="1" fill="#f00"/>
<rect x="447" y="489" width="2" height="1" fill="#f00"/>
<rect x="665" y="489" width="1" height="1" fill="#f00"/>
<rect x="728" y="489" width="1" height="1" fill="#f00"/>
<rect x="763" y="489" width="5" height="1" fill="#f00"/>
<rect x="7" y="490" width="1" height="1" fill="#f00"/>
<rect x="61" y="490" width="3" height="1" fill="#f00"/>
<rect x="151" y="490" width="2" height="1" fill="#f00"/>
<rect x="224" y="490" width="1" height="1" fill="#f00"/>
<rect x="290" y="490" width="1" height="1" fill="#f00"/>
<rect x="363" y="490" width="1" height="1" fill="#f00"/>
<rect x="446" y="490" width="1" height="1" fill="#f00"/>
<rect x="666" y="490" width="1" height="1" fill="#f00"/>
<rect x="727" y="490" width="1" height="1" fill="#f00"/>
<rect x="768" y="490" width="4" height="1" fill="#f00"/>
<rect x="7" y="491" width="1" height="1" fill="#f00"/>
<rect x="64" y="491" width="2" height="1" fill="#f00"/>
<rect x="150" y="491" width="1" height="1" fill="#f00"/>
<rect x="225" y="491" width="1" height="1" fill="#f00"/>
<rect x="289" y="491" width="1" height="1" fill="#f00"/>
<rect x="364" y="491" width="1" height="1" fill="#f00"/>
<rect x="445" y="491" width="1" height="1" fill="#f00"/>
<rect x="667" y="491" width="1" height="1" fill="#f00"/>
<rect x="726" y="491" width="1" height="1" fill="#f00"/>
<rect x="772" y="491" width="2" height="1" fill="#f00"/>
<rect x="6" y="492" width="1" height="1" fill="#f00"/>
<rect x="66" y="492" width="2" height="1" fill="#f00"/>
<rect x="148" y="492" width="2" height="1" fill="#f00"/>
<rect x="225" y="492" width="1" height="1" fill="#f00"/>
<rect x="287" y="492" width="2" height="1" fill="#f00"/>
<rect x="365" y="492" width="1" height="1" fill="#f00"/>
<rect x="444" y="492" width="1" height="1" fill="#f00"/>
<rect x="668" y="492" width="2" height="1" fill="#f00"/>
<rect x="726" y="492" width="1" height="1" fill="#f00"/>
<rect x="774" y="492" width="1" height="1" fill="#f00"/>
<rect x="5" y="493" width="1" height="1" fill="#f00"/>
<rect x="68" y="493" width="2" height="1" fill="#f00"/>
<rect x="147" y="493" width="1" height="1" fill="#f00"/>
<rect x="226" y="493" width="1" height="1" fill="#f00"/>
<rect x="286" y="493" width="1" height="1" fill="#f00"/>
<rect x="366" y="493" width="1" height="1" fill="#f00"/>
<rect x="439" y="493" width="5" height="1" fill="#f00"/>
<rect x="670" y="493" width="2" height="1" fill="#f00"/>
<rect x="725" y="493" width="1" height="1" fill="#f00"/>
<rect x="775" y="493" width="1" height="1" fill="#f00"/>
<rect x="5" y="494" width="1" height="1" fill="#f00"/>
<rect x="70" y="494" width="1" height="1" fill="#f00"/>
<rect x="145" y="494" width="2" height="1" fill="#f00"/>
<rect x="227" y="494" width="1" height="1" fill="#f00"/>
<rect x="285" y="494" width="1" height="1" fill="#f00"/>
<rect x="367" y="494" width="1" height="1" fill="#f00"/>
<rect x="435" y="494" width="4" height="1" fill="#f00"/>
<rect x="672" y="494" width="1" height="1" fill="#f00"/>
<rect x="724" y="494" width="1" height="1" fill="#f00"/>
<rect x="776" y="494" width="2" height="1" fill="#f00"/>
<rect x="4" y="495" width="1" height="1" fill="#f00"/>
<rect x="71" y="495" width="1" height="1" fill="#f00"/>
<rect x="143" y="495" width="2" height="1" fill="#f00"/>
<rect x="228" y="495" width="2" height="1" fill="#f00"/>
<rect x="284" y="495" width="1" height="1" fill="#f00"/>
<rect x="368" y="495" width="1" height="1" fill="#f00"/>
<rect x="433" y="495" width="2" height="1" fill="#f00"/>
<rect x="673" y="495" width="2" height="1" fill="#f00"/>
<rect x="724" y="495" width="1" height="1" fill="#f00"/>
<rect x="778" y="495" width="1" height="1" fill="#f00"/>
<rect x="4" y="496" width="1" height="1" fill="#f00"/>
<rect x="72" y="496" width="2" height="1" fill="#f00"/>
<rect x="142" y="496" width="1" height="1" fill="#f00"/>
<rect x="230" y="496" width="2" height="1" fill="#f00"/>
<rect x="283" y="496" width="1" height="1" fill="#f00"/>
<rect x="369" y="496" width="1" height="1" fill="#f00"/>
<rect x="432" y="496" width="1" height="1" fill="#f00"/>
<rect x="675" y="496" width="1" height="1" fill="#f00"/>
<rect x="719" y="496" width="5" height="1" fill="#f00"/>
<rect x="779" y="496" width="1" height="1" fill="#f00"/>
<rect x="3" y="497" width="1" height="1" fill="#f00"/>
<rect x="74" y="497" width="1" height="1" fill="#f00"/>
<rect x="140" y="497" width="2" height="1" fill="#f00"/>
<rect x="232" y="497" width="1" height="1" fill="#f00"/>
<rect x="282" y="497" width="1" height="1" fill="#f00"/>
<rect x="370" y="497" width="1" height="1" fill="#f00"/>
<rect x="411" y="497" width="1" height="1" fill="#f00"/>
<rect x="431" y="497" width="1" height="1" fill="#f00"/>
<rect x="676" y="497" width="2" height="1" fill="#f00"/>
<rect x="715" y="497" width="4" height="1" fill="#f00"/>
<rect x="780" y="497" width="1" height="1" fill="#f00"/>
<rect x="75" y="498" width="1" height="1" fill="#f00"/>
<rect x="139" y="498" width="1" height="1" fill="#f00"/>
<rect x="233" y="498" width="2" height="1" fill="#f00"/>
<rect x="251" y="498" width="3" height="1" fill="#f00"/>
<rect x="281" y="498" width="1" height="1" fill="#f00"/>
<rect x="371" y="498" width="2" height="1" fill="#f00"/>
<rect x="409" y="498" width="2" height="1" fill="#f00"/>
<rect x="412" y="498" width="2" height="1" fill="#f00"/>
<rect x="429" y="498" width="2" height="1" fill="#f00"/>
<rect x="678" y="498" width="2" height="1" fill="#f00"/>
<rect x="714" y="498" width="1" height="1" fill="#f00"/>
<rect x="781" y="498" width="1" height="1" fill="#f00"/>
<rect x="76" y="499" width="1" height="1" fill="#f00"/>
<rect x="138" y="499" width="1" height="1" fill="#f00"/>
<rect x="235" y="499" width="2" height="1" fill="#f00"/>
<rect x="249" y="499" width="2" height="1" fill="#f00"/>
<rect x="254" y="499" width="4" height="1" fill="#f00"/>
<rect x="263" y="499" width="5" height="1" fill="#f00"/>
<rect x="280" y="499" width="1" height="1" fill="#f00"/>
<rect x="373" y="499" width="2" height="1" fill="#f00"/>
<rect x="407" y="499" width="2" height="1" fill="#f00"/>
<rect x="414" y="499" width="2" height="1" fill="#f00"/>
<rect x="428" y="499" width="1" height="1" fill="#f00"/>
<rect x="680" y="499" width="1" height="1" fill="#f00"/>
<rect x="713" y="499" width="1" height="1" fill="#f00"/>
<rect x="782" y="499" width="1" height="1" fill="#f00"/>
<rect x="930" y="499" width="1" height="1" fill="#f00"/>
<rect x="76" y="500" width="1" height="1" fill="#f00"/>
<rect x="138" y="500" width="1" height="1" fill="#f00"/>
<rect x="237" y="500" width="2" height="1" fill="#f00"/>
<rect x="247" y="500" width="2" height="1" fill="#f00"/>
<rect x="258" y="500" width="5" height="1" fill="#f00"/>
<rect x="268" y="500" width="2" height="1" fill="#f00"/>
<rect x="279" y="500" width="1" height="1" fill="#f00"/>
<rect x="375" y="500" width="2" height="1" fill="#f00"/>
<rect x="406" y="500" width="1" height="1" fill="#f00"/>
<rect x="416" y="500" width="1" height="1" fill="#f00"/>
<rect x="425" y="500" width="3" height="1" fill="#f00"/>
<rect x="681" y="500" width="2" height="1" fill="#f00"/>
<rect x="687" y="500" width="6" height="1" fill="#f00"/>
<rect x="712" y="500" width="1" height="1" fill="#f00"/>
<rect x="783" y="500" width="1" height="1" fill="#f00"/>
<rect x="929" y="500" width="1" height="1" fill="#f00"/>
<rect x="77" y="501" width="1" height="1" fill="#f00"/>
<rect x="137" y="501" width="1" height="1" fill="#f00"/>
<rect x="239" y="501" width="2" height="1" fill="#f00"/>
<rect x="246" y="501" width="1" height="1" fill="#f00"/>
<rect x="270" y="501" width="1" height="1" fill="#f00"/>
<rect x="279" y="501" width="1" height="1" fill="#f00"/>
<rect x="377" y="501" width="2" height="1" fill="#f00"/>
<rect x="404" y="501" width="2" height="1" fill="#f00"/>
<rect x="417" y="501" width="2" height="1" fill="#f00"/>
<rect x="421" y="501" width="4" height="1" fill="#f00"/>
<rect x="683" y="501" width="4" height="1" fill="#f00"/>
<rect x="693" y="501" width="2" height="1" fill="#f00"/>
<rect x="711" y="501" width="1" height="1" fill="#f00"/>
<rect x="784" y="501" width="1" height="1" fill="#f00"/>
<rect x="927" y="501" width="2" height="1" fill="#f00"/>
<rect x="77" y="502" width="1" height="1" fill="#f00"/>
<rect x="136" y="502" width="1" height="1" fill="#f00"/>
<rect x="241" y="502" width="2" height="1" fill="#f00"/>
<rect x="244" y="502" width="2" height="1" fill="#f00"/>
<rect x="271" y="502" width="1" height="1" fill="#f00"/>
<rect x="278" y="502" width="1" height="1" fill="#f00"/>
<rect x="379" y="502" width="3" height="1" fill="#f00"/>
<rect x="401" y="502" width="3" height="1" fill="#f00"/>
<rect x="419" y="502" width="2" height="1" fill="#f00"/>
<rect x="695" y="502" width="2" height="1" fill="#f00"/>
<rect x="710" y="502" width="1" height="1" fill="#f00"/>
<rect x="785" y="502" width="1" height="1" fill="#f00"/>
<rect x="926" y="502" width="1" height="1" fill="#f00"/>
<rect x="78" y="503" width="1" height="1" fill="#f00"/>
<rect x="135" y="503" width="1" height="1" fill="#f00"/>
<rect x="243" y="503" width="1" height="1" fill="#f00"/>
<rect x="272" y="503" width="2" height="1" fill="#f00"/>
<rect x="277" y="503" width="1" height="1" fill="#f00"/>
<rect x="382" y="503" width="4" height="1" fill="#f00"/>
<rect x="397" y="503" width="4" height="1" fill="#f00"/>
<rect x="697" y="503" width="2" height="1" fill="#f00"/>
<rect x="709" y="503" width="1" height="1" fill="#f00"/>
<rect x="786" y="503" width="1" height="1" fill="#f00"/>
<rect x="925" y="503" width="1" height="1" fill="#f00"/>
<rect x="79" y="504" width="1" height="1" fill="#f00"/>
<rect x="135" y="504" width="1" height="1" fill="#f00"/>
<rect x="274" y="504" width="1" height="1" fill="#f00"/>
<rect x="276" y="504" width="1" height="1" fill="#f00"/>
<rect x="386" y="504" width="11" height="1" fill="#f00"/>
<rect x="699" y="504" width="5" height="1" fill="#f00"/>
<rect x="708" y="504" width="1" height="1" fill="#f00"/>
<rect x="787" y="504" width="1" height="1" fill="#f00"/>
<rect x="924" y="504" width="1" height="1" fill="#f00"/>
<rect x="79" y="505" width="1" height="1" fill="#f00"/>
<rect x="134" y="505" width="1" height="1" fill="#f00"/>
<rect x="275" y="505" width="1" height="1" fill="#f00"/>
<rect x="704" y="505" width="4" height="1" fill="#f00"/>
<rect x="788" y="505" width="1" height="1" fill="#f00"/>
<rect x="919" y="505" width="5" height="1" fill="#f00"/>
<rect x="80" y="506" width="1" height="1" fill="#f00"/>
<rect x="133" y="506" width="1" height="1" fill="#f00"/>
<rect x="788" y="506" width="1" height="1" fill="#f00"/>
<rect x="915" y="506" width="4" height="1" fill="#f00"/>
<rect x="81" y="507" width="1" height="1" fill="#f00"/>
<rect x="132" y="507" width="1" height="1" fill="#f00"/>
<rect x="789" y="507" width="1" height="1" fill="#f00"/>
<rect x="914" y="507" width="1" height="1" fill="#f00"/>
<rect x="81" y="508" width="1" height="1" fill="#f00"/>
<rect x="132" y="508" width="1" height="1" fill="#f00"/>
<rect x="790" y="508" width="1" height="1" fill="#f00"/>
<rect x="914" y="508" width="1" height="1" fill="#f00"/>
<rect x="82" y="509" width="1" height="1" fill="#f00"/>
<rect x="131" y="509" width="1" height="1" fill="#f00"/>
<rect x="791" y="509" width="1" height="1" fill="#f00"/>
<rect x="913" y="509" width="1" height="1" fill="#f00"/>
<rect x="82" y="510" width="1" height="1" fill="#f00"/>
<rect x="130" y="510" width="1" height="1" fill="#f00"/>
<rect x="791" y="510" width="1" height="1" fill="#f00"/>
<rect x="913" y="510" width="1" height="1" fill="#f00"/>
<rect x="83" y="511" width="1" height="1" fill="#f00"/>
<rect x="129" y="511" width="1" height="1" fill="#f00"/>
<rect x="792" y="511" width="1" height="1" fill="#f00"/>
<rect x="912" y="511" width="1" height="1" fill="#f00"/>
<rect x="84" y="512" width="1" height="1" fill="#f00"/>
<rect x="128" y="512" width="1" height="1" fill="#f00"/>
<rect x="793" y="512" width="1" height="1" fill="#f00"/>
<rect x="911" y="512" width="1" height="1" fill="#f00"/>
<rect x="85" y="513" width="1" height="1" fill="#f00"/>
<rect x="127" y="513" width="1" height="1" fill="#f00"/>
<rect x="794" y="513" width="1" height="1" fill="#f00"/>
<rect x="911" y="513" width="1" height="1" fill="#f00"/>
<rect x="86" y="514" width="2" height="1" fill="#f00"/>
<rect x="127" y="514" width="1" height="1" fill="#f00"/>
<rect x="794" y="514" width="1" height="1" fill="#f00"/>
<rect x="910" y="514" width="1" height="1" fill="#f00"/>
<rect x="88" y="515" width="1" height="1" fill="#f00"/>
<rect x="126" y="515" width="1" height="1" fill="#f00"/>
<rect x="795" y="515" width="1" height="1" fill="#f00"/>
<rect x="909" y="515" width="1" height="1" fill="#f00"/>
<rect x="89" y="516" width="1" height="1" fill="#f00"/>
<rect x="125" y="516" width="1" height="1" fill="#f00"/>
<rect x="796" y="516" width="1" height="1" fill="#f00"/>
<rect x="909" y="516" width="1" height="1" fill="#f00"/>
<rect x="90" y="517" width="1" height="1" fill="#f00"/>
<rect x="124" y="517" width="1" height="1" fill="#f00"/>
<rect x="796" y="517" width="1" height="1" fill="#f00"/>
<rect x="908" y="517" width="1" height="1" fill="#f00"/>
<rect x="91" y="518" width="1" height="1" fill="#f00"/>
<rect x="113" y="518" width="11" height="1" fill="#f00"/>
<rect x="797" y="518" width="1" height="1" fill="#f00"/>
<rect x="908" y="518" width="1" height="1" fill="#f00"/>
<rect x="92" y="519" width="2" height="1" fill="#f00"/>
<rect x="109" y="519" width="4" height="1" fill="#f00"/>
<rect x="797" y="519" width="1" height="1" fill="#f00"/>
<rect x="905" y="519" width="3" height="1" fill="#f00"/>
<rect x="94" y="520" width="2" height="1" fill="#f00"/>
<rect x="106" y="520" width="3" height="1" fill="#f00"/>
<rect x="798" y="520" width="1" height="1" fill="#f00"/>
<rect x="901" y="520" width="4" height="1" fill="#f00"/>
<rect x="96" y="521" width="1" height="1" fill="#f00"/>
<rect x="103" y="521" width="3" height="1" fill="#f00"/>
<rect x="798" y="521" width="1" height="1" fill="#f00"/>
<rect x="899" y="521" width="2" height="1" fill="#f00"/>
<rect x="97" y="522" width="2" height="1" fill="#f00"/>
<rect x="101" y="522" width="2" height="1" fill="#f00"/>
<rect x="799" y="522" width="1" height="1" fill="#f00"/>
<rect x="897" y="522" width="2" height="1" fill="#f00"/>
<rect x="99" y="523" width="2" height="1" fill="#f00"/>
<rect x="800" y="523" width="1" height="1" fill="#f00"/>
<rect x="896" y="523" width="1" height="1" fill="#f00"/>
<rect x="800" y="524" width="1" height="1" fill="#f00"/>
<rect x="895" y="524" width="1" height="1" fill="#f00"/>
<rect x="801" y="525" width="1" height="1" fill="#f00"/>
<rect x="893" y="525" width="2" height="1" fill="#f00"/>
<rect x="801" y="526" width="1" height="1" fill="#f00"/>
<rect x="892" y="526" width="1" height="1" fill="#f00"/>
<rect x="802" y="527" width="1" height="1" fill="#f00"/>
<rect x="890" y="527" width="2" height="1" fill="#f00"/>
<rect x="802" y="528" width="1" height="1" fill="#f00"/>
<rect x="888" y="528" width="2" height="1" fill="#f00"/>
<rect x="803" y="529" width="1" height="1" fill="#f00"/>
<rect x="886" y="529" width="2" height="1" fill="#f00"/>
<rect x="804" y="530" width="1" height="1" fill="#f00"/>
<rect x="884" y="530" width="2" height="1" fill="#f00"/>
<rect x="805" y="531" width="1" height="1" fill="#f00"/>
<rect x="883" y="531" width="1" height="1" fill="#f00"/>
<rect x="806" y="532" width="1" height="1" fill="#f00"/>
<rect x="882" y="532" width="1" height="1" fill="#f00"/>
<rect x="807" y="533" width="1" height="1" fill="#f00"/>
<rect x="882" y="533" width="1" height="1" fill="#f00"/>
<rect x="808" y="534" width="1" height="1" fill="#f00"/>
<rect x="827" y="534" width="1" height="1" fill="#f00"/>
<rect x="881" y="534" width="1" height="1" fill="#f00"/>
<rect x="809" y="535" width="1" height="1" fill="#f00"/>
<rect x="825" y="535" width="2" height="1" fill="#f00"/>
<rect x="828" y="535" width="2" height="1" fill="#f00"/>
<rect x="880" y="535" width="1" height="1" fill="#f00"/>
<rect x="810" y="536" width="1" height="1" fill="#f00"/>
<rect x="823" y="536" width="2" height="1" fill="#f00"/>
<rect x="830" y="536" width="1" height="1" fill="#f00"/>
<rect x="879" y="536" width="1" height="1" fill="#f00"/>
<rect x="811" y="537" width="3" height="1" fill="#f00"/>
<rect x="822" y="537" width="1" height="1" fill="#f00"/>
<rect x="831" y="537" width="1" height="1" fill="#f00"/>
<rect x="879" y="537" width="1" height="1" fill="#f00"/>
<rect x="814" y="538" width="4" height="1" fill="#f00"/>
<rect x="820" y="538" width="2" height="1" fill="#f00"/>
<rect x="832" y="538" width="2" height="1" fill="#f00"/>
<rect x="878" y="538" width="1" height="1" fill="#f00"/>
<rect x="818" y="539" width="2" height="1" fill="#f00"/>
<rect x="834" y="539" width="1" height="1" fill="#f00"/>
<rect x="877" y="539" width="1" height="1" fill="#f00"/>
<rect x="835" y="540" width="5" height="1" fill="#f00"/>
<rect x="876" y="540" width="1" height="1" fill="#f00"/>
<rect x="840" y="541" width="4" height="1" fill="#f00"/>
<rect x="876" y="541" width="1" height="1" fill="#f00"/>
<rect x="844" y="542" width="1" height="1" fill="#f00"/>
<rect x="875" y="542" width="1" height="1" fill="#f00"/>
<rect x="845" y="543" width="1" height="1" fill="#f00"/>
<rect x="873" y="543" width="2" height="1" fill="#f00"/>
<rect x="845" y="544" width="1" height="1" fill="#f00"/>
<rect x="871" y="544" width="2" height="1" fill="#f00"/>
<rect x="846" y="545" width="1" height="1" fill="#f00"/>
<rect x="870" y="545" width="1" height="1" fill="#f00"/>
<rect x="847" y="546" width="1" height="1" fill="#f00"/>
<rect x="868" y="546" width="2" height="1" fill="#f00"/>
<rect x="848" y="547" width="1" height="1" fill="#f00"/>
<rect x="867" y="547" width="1" height="1" fill="#f00"/>
<rect x="849" y="548" width="1" height="1" fill="#f00"/>
<rect x="865" y="548" width="2" height="1" fill="#f00"/>
<rect x="849" y="549" width="1" height="1" fill="#f00"/>
<rect x="863" y="549" width="2" height="1" fill="#f00"/>
<rect x="850" y="550" width="1" height="1" fill="#f00"/>
<rect x="862" y="550" width="1" height="1" fill="#f00"/>
<rect x="851" y="551" width="5" height="1" fill="#f00"/>
<rect x="860" y="551" width="2" height="1" fill="#f00"/>
<rect x="856" y="552" width="4" height="1" fill="#f00"/>
<g fill="#000">
<rect x="2" y="2" width="951" height="1"/>
<rect x="2" y="2" width="1" height="408"/>
<rect x="952" y="2" width="1" height="408"/>
<rect x="2" y="411" width="1" height="203"/>
<rect x="952" y="411" width="1" height="203"/>
<rect x="2" y="409" width="951" height="1"/>
<rect x="2" y="411" width="951" height="1"/>
<rect x="2" y="613" width="951" height="1"/>
<rect x="953" y="49" width="2" height="1"/>
<rect x="953" y="114" width="2" height="1"/>
<rect x="953" y="179" width="2" height="1"/>
<rect x="953" y="244" width="2" height="1"/>
<rect x="953" y="309" width="2" height="1"/>
<rect x="953" y="374" width="2" height="1"/>
<rect x="953" y="413" width="1" height="1"/>
<rect x="953" y="612" width="1" height="1"/>
<rect x="3" y="614" width="1" height="3"/>
<rect x="131" y="614" width="1" height="3"/>
<rect x="259" y="614" width="1" height="3"/>
<rect x="387" y="614" width="1" height="3"/>
<rect x="515" y="614" width="1" height="3"/>
<rect x="643" y="614" width="1" height="3"/>
<rect x="771" y="614" width="1" height="3"/>
<rect x="899" y="614" width="1" height="3"/>
<rect x="954" y="185" width="62" height="17"/>
<rect x="6" y="10" width="11" height="1"/>
<rect x="7" y="11" width="9" height="1"/>
<rect x="8" y="12" width="7" height="1"/>
<rect x="9" y="13" width="5" height="1"/>
<rect x="10" y="14" width="3" height="1"/>
<rect x="11" y="15" width="1" height="1"/>
</g>
</g>
<text x="23.5" y="19" textLength="84" lengthAdjust="spacingAndGlyphs">AUDUSD,M15</text>
<text x="116" y="19" textLength="52" lengthAdjust="spacingAndGlyphs">0.70003</text>
<text x="172" y="19" textLength="52" lengthAdjust="spacingAndGlyphs">0.70092</text>
<text x="228" y="19" textLength="52" lengthAdjust="spacingAndGlyphs">0.69971</text>
<text x="284" y="19" textLength="52" lengthAdjust="spacingAndGlyphs">0.70067</text>
<text x="959" y="55" textLength="52" lengthAdjust="spacingAndGlyphs">0.70745</text>
<text x="959" y="120" textLength="52" lengthAdjust="spacingAndGlyphs">0.70440</text>
<text x="959" y="185" textLength="52" lengthAdjust="spacingAndGlyphs">0.70130</text>
<text x="959" y="250" textLength="52" lengthAdjust="spacingAndGlyphs">0.69825</text>
<text x="959" y="315" textLength="52" lengthAdjust="spacingAndGlyphs">0.69520</text>
<text x="959" y="380" textLength="52" lengthAdjust="spacingAndGlyphs">0.69215</text>
<text x="959" y="199" textLength="52" lengthAdjust="spacingAndGlyphs" fill="#fff" style="fill:#fff">0.70067</text>
<text x="956" y="427" textLength="24" lengthAdjust="spacingAndGlyphs">100</text>
<text x="955" y="518" textLength="16" lengthAdjust="spacingAndGlyphs">50</text>
<text x="956" y="609" textLength="8" lengthAdjust="spacingAndGlyphs">0</text>
<text x="7" y="429" textLength="26" lengthAdjust="spacingAndGlyphs">ASO</text>
<text x="33.5" y="429" textLength="25.5" lengthAdjust="spacingAndGlyphs">(10)</text>
<text x="63" y="429" textLength="52" lengthAdjust="spacingAndGlyphs">42.2424</text>
<text x="119" y="429" textLength="52" lengthAdjust="spacingAndGlyphs">57.7576</text>
<text x="2" y="631" textLength="16" lengthAdjust="spacingAndGlyphs">20</text>
<text x="22" y="631" textLength="23" lengthAdjust="spacingAndGlyphs">Mar</text>
<text x="48.5" y="631" textLength="32" lengthAdjust="spacingAndGlyphs">2026</text>
<text x="130" y="631" textLength="16" lengthAdjust="spacingAndGlyphs">20</text>
<text x="150" y="631" textLength="23" lengthAdjust="spacingAndGlyphs">Mar</text>
<text x="176.5" y="631" textLength="37" lengthAdjust="spacingAndGlyphs">14:45</text>
<text x="258" y="631" textLength="16" lengthAdjust="spacingAndGlyphs">20</text>
<text x="278" y="631" textLength="23" lengthAdjust="spacingAndGlyphs">Mar</text>
<text x="304.5" y="631" textLength="37" lengthAdjust="spacingAndGlyphs">18:45</text>
<text x="386" y="631" textLength="16" lengthAdjust="spacingAndGlyphs">23</text>
<text x="406" y="631" textLength="23" lengthAdjust="spacingAndGlyphs">Mar</text>
<text x="432.5" y="631" textLength="37" lengthAdjust="spacingAndGlyphs">00:45</text>
<text x="514" y="631" textLength="16" lengthAdjust="spacingAndGlyphs">23</text>
<text x="534" y="631" textLength="23" lengthAdjust="spacingAndGlyphs">Mar</text>
<text x="560.5" y="631" textLength="37" lengthAdjust="spacingAndGlyphs">04:45</text>
<text x="642" y="631" textLength="16" lengthAdjust="spacingAndGlyphs">23</text>
<text x="662" y="631" textLength="23" lengthAdjust="spacingAndGlyphs">Mar</text>
<text x="688.5" y="631" textLength="37" lengthAdjust="spacingAndGlyphs">08:45</text>
<text x="770" y="631" textLength="16" lengthAdjust="spacingAndGlyphs">23</text>
<text x="790" y="631" textLength="23" lengthAdjust="spacingAndGlyphs">Mar</text>
<text x="816.5" y="631" textLength="37" lengthAdjust="spacingAndGlyphs">12:45</text>
<text x="898" y="631" textLength="16" lengthAdjust="spacingAndGlyphs">23</text>
<text x="918" y="631" textLength="23" lengthAdjust="spacingAndGlyphs">Mar</text>
<text x="944.5" y="631" textLength="37" lengthAdjust="spacingAndGlyphs">16:45</text>
</svg></body></html>
